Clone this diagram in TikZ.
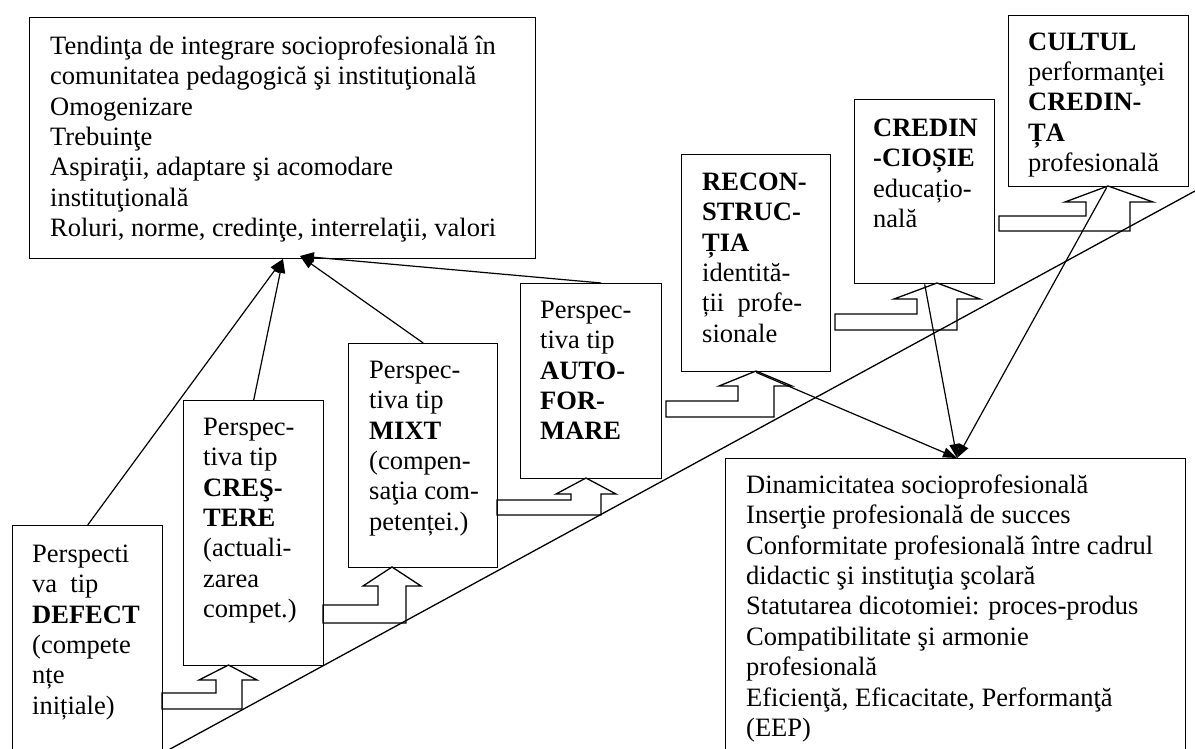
\documentclass[tikz,border=0pt]{standalone}
\usepackage{fontspec}
\setmainfont{Liberation Serif}
\usetikzlibrary{arrows.meta}
\newcommand{\fsz}{\fontsize{26.5pt}{30.4pt}\selectfont}
\newcommand{\st}{\rule{0pt}{24pt}}
\begin{document}
\begin{tikzpicture}[x=1pt,y=-1pt,
  box/.style={draw, line width=1.4pt, inner sep=0pt, anchor=north west},
  txt/.style={anchor=north west, inner sep=0pt, align=left, font=\fsz},
  conn/.style={line width=1.2pt, -{Triangle[length=14pt,width=10pt]}},
  hol/.style={line width=1.3pt, line join=miter},
  diag/.style={line width=1.3pt}
]
\useasboundingbox (0,0) rectangle (1195,749);
\clip (0,0) rectangle (1195,749);

% boxes
\node[box, minimum width=506pt, minimum height=241pt] (tl) at (29,17) {};
\node[box, minimum width=150pt, minimum height=245pt] (defect) at (12,525) {};
\node[box, minimum width=140pt, minimum height=265pt] (cres) at (183,400) {};
\node[box, minimum width=149pt, minimum height=224pt] (mixt) at (348,343) {};
\node[box, minimum width=141pt, minimum height=195pt] (auto) at (520,283) {};
\node[box, minimum width=149pt, minimum height=217pt] (recon) at (681,154) {};
\node[box, minimum width=140pt, minimum height=184pt] (credin) at (854,99) {};
\node[box, minimum width=180pt, minimum height=171pt] (cultul) at (1008,15) {};
\node[box, minimum width=460pt, minimum height=312pt] (bottom) at (725,458) {};

% texts
\node[txt] (tl-t) at (50,30) {\st Tendinţa de integrare socioprofesională în\\
comunitatea pedagogică şi instituţională\\
Omogenizare\\
Trebuinţe\\
Aspiraţii, adaptare şi acomodare\\
instituţională\\
Roluri, norme, credinţe, interrelaţii, valori};
\node[txt] (defect-t) at (32,538) {\st Perspecti\\ va\ \ tip\\ \textbf{DEFECT}\\ (compete\\ nțe\\ inițiale)};
\node[txt] (cres-t) at (203,411) {\st Perspec-\\ tiva tip\\ \textbf{CREŞ-}\\ \textbf{TERE}\\ (actuali-\\ zarea\\ compet.)};
\node[txt] (mixt-t) at (369,354) {\st Perspec-\\ tiva tip\\ \textbf{MIXT}\\ (compen-\\ saţia com-\\ petenței.)};
\node[txt] (auto-t) at (540,294) {\st Perspec-\\ tiva tip\\ \textbf{AUTO-}\\ \textbf{FOR-}\\ \textbf{MARE}};
\node[txt] (recon-t) at (702,166) {\st \textbf{RECON-}\\ \textbf{STRUC-}\\ \textbf{ȚIA}\\ identită-\\ ții\ \ profe-\\ sionale};
\node[txt] (credin-t) at (873,112) {\st \textbf{CREDIN}\\ \textbf{-CIOȘIE}\\ educațio-\\ nală};
\node[txt] (cultul-t) at (1028,26) {\st \textbf{CULTUL}\\ performanţei\\ \textbf{CREDIN-}\\ \textbf{ȚA}\\ profesională};
\node[txt] (bottom-t) at (746,469) {\st Dinamicitatea socioprofesională\\ Inserţie profesională de succes\\ Conformitate profesională între cadrul\\ didactic şi instituţia şcolară\\ Statutarea dicotomiei: proces-produs\\ Compatibilitate şi armonie\\ profesională\\ Eficienţă, Eficacitate, Performanţă\\ (EEP)};

% diagonal
\coordinate (d0) at (150,760);
\coordinate (d1) at (1195,191);
\draw[diag] (d0) -- (d1);

% hollow bent arrows
\draw[hol] (162,693) -- (216,693) -- (216,680) -- (199,680) -- (228.5,665) -- (257,680) -- (242,680) -- (242,709) -- (162,709) -- cycle;
\draw[hol] (323,605) -- (378,605) -- (378,586) -- (363,586) -- (392,567) -- (421,586) -- (406,586) -- (406,623) -- (323,623) -- cycle;
\draw[hol] (497,500) -- (571,500) -- (571,494) -- (556,494) -- (586,478) -- (616,494) -- (601,494) -- (601,515) -- (497,515) -- cycle;
\draw[hol] (666,401) -- (738,401) -- (738,386) -- (719,386) -- (756,371) -- (792,386) -- (774,386) -- (774,417) -- (666,417) -- cycle;
\draw[hol] (835,314) -- (917,314) -- (917,299) -- (894,299) -- (937,283) -- (980,299) -- (957,299) -- (957,330) -- (835,330) -- cycle;
\draw[hol] (999,216) -- (1086,216) -- (1086,202) -- (1065,202) -- (1108,186) -- (1153,202) -- (1130,202) -- (1130,231) -- (999,231) -- cycle;

% connectors
\coordinate (h1) at (283,259);
\coordinate (h2) at (300,256);
\coordinate (h3) at (957,458);
\draw[conn] (defect.north) -- (h1);
\draw[conn] (cres.north) -- (h1);
\draw[conn] (mixt.north) -- (h2);
\draw[conn] ([xshift=10pt]auto.north) -- (h2);
\draw[conn] (recon.south) -- (h3);
\draw[conn] (credin.south) -- (h3);
\draw[conn] ([xshift=8pt]cultul.south) -- (h3);
\end{tikzpicture}
\end{document}
